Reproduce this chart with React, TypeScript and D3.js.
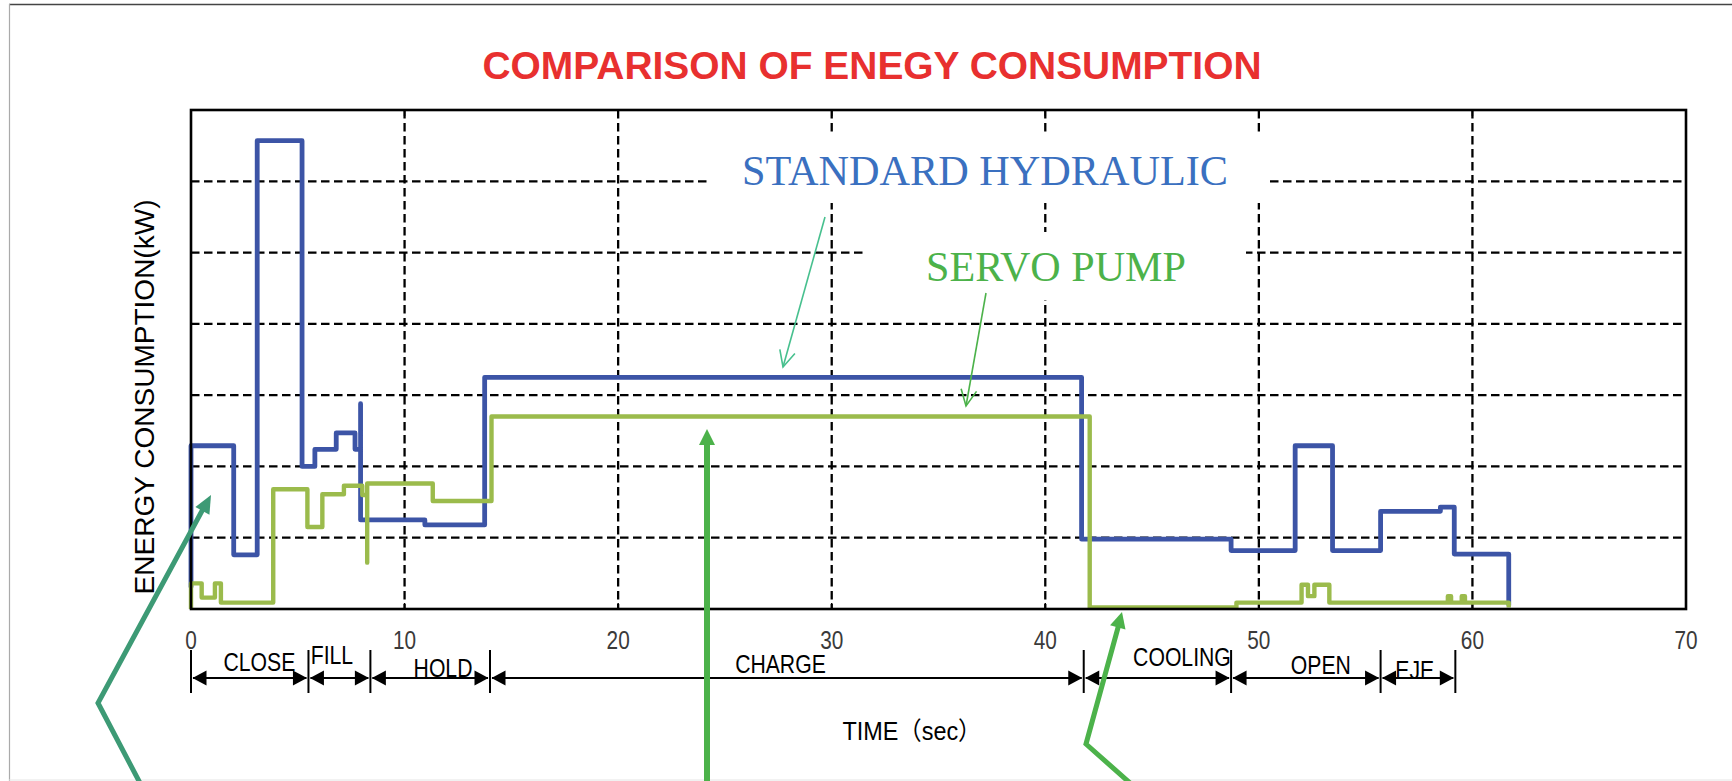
import React from "react";
import * as d3 from "d3";

// ---------- data ----------
const xTicks = [0, 10, 20, 30, 40, 50, 60, 70];
const yGrid = [1, 2, 3, 4, 5, 6];

const hydraulicTime = [0, 0, 2.0, 3.1, 5.2, 5.8, 6.8, 7.68, 7.94, 7.94, 10.95, 13.75, 41.7, 48.7, 51.7, 53.45, 55.7, 58.5, 59.15, 61.7];
const hydraulicKw = [0.3, 2.29, 0.76, 6.57, 2.0, 2.24, 2.47, 2.24, 2.88, 1.25, 1.18, 3.25, 0.98, 0.82, 2.29, 0.82, 1.37, 1.43, 0.77, 0.05];

const servoTime = [0, 0, 0.5, 1.12, 1.4, 3.85, 5.45, 6.15, 7.16, 8.02, 8.25, 8.25, 11.32, 14.07, 42.08, 48.95, 52.0, 52.3, 52.6, 53.3, 58.85, 59.0, 59.5, 59.65, 61.7];
const servoKw = [0, 0.36, 0.16, 0.36, 0.09, 1.68, 1.15, 1.61, 1.73, 1.6, 0.65, 1.76, 1.515, 2.7, 0.02, 0.09, 0.34, 0.18, 0.34, 0.09, 0.18, 0.09, 0.18, 0.09, 0.02];

const phaseBounds = [0, 5.5, 8.4, 14, 41.8, 48.7, 55.7, 59.2];
const phaseNames = ["CLOSE", "FILL", "HOLD", "CHARGE", "COOLING", "OPEN", "EJE"];
const phaseLabelAt = [3.2, 6.6, 11.8, 27.6, 46.4, 52.9, 57.3];

// ---------- layout ----------
const W = 1732;
const H = 781;
const L = 191, R = 1686, T = 110, B = 609;
const phaseLabelBaseline = [671, 664, 677, 673, 666, 674, 679];

const BLUE = "#3c54a6";
const GREEN = "#9bbb4c";
const ARROW_GREEN = "#4cb24a";
const TEAL = "#3d9a75";

function solidHead(x0: number, y0: number, x1: number, y1: number, len: number, half: number, color: string) {
  const a = Math.atan2(y1 - y0, x1 - x0);
  const bx = x1 - len * Math.cos(a), by = y1 - len * Math.sin(a);
  const px = -Math.sin(a) * half, py = Math.cos(a) * half;
  return <path d={`M${x1},${y1}L${bx + px},${by + py}L${bx - px},${by - py}Z`} fill={color} />;
}

function openHead(x0: number, y0: number, x1: number, y1: number, len: number, ang: number, color: string, w: number) {
  const a = Math.atan2(y1 - y0, x1 - x0);
  const p1 = [x1 - len * Math.cos(a - ang), y1 - len * Math.sin(a - ang)];
  const p2 = [x1 - len * Math.cos(a + ang), y1 - len * Math.sin(a + ang)];
  return <path d={`M${p1[0]},${p1[1]}L${x1},${y1}L${p2[0]},${p2[1]}`} fill="none" stroke={color} strokeWidth={w} />;
}

export default function App() {
  const x = d3.scaleLinear().domain([0, 70]).range([L, R]);
  const y = d3.scaleLinear().domain([0, 7]).range([B, T]);

  const line = d3.line<[number, number]>()
    .x((d) => x(d[0]))
    .y((d) => y(d[1]))
    .curve(d3.curveStepAfter);

  const blueD = line(hydraulicTime.map((t, i) => [t, hydraulicKw[i]] as [number, number])) || "";
  const greenD = line(servoTime.map((t, i) => [t, servoKw[i]] as [number, number])) || "";

  const arrowY = 678;

  return (
    <svg width={W} height={H} style={{ position: "absolute", left: 0, top: 0, display: "block" }}
      xmlns="http://www.w3.org/2000/svg">
      <rect x={0} y={0} width={W} height={H} fill="#fff" />
      {/* outer frame */}
      <line x1={9} y1={4.5} x2={W} y2={4.5} stroke="#444" strokeWidth={1.5} />
      <line x1={9.5} y1={4} x2={9.5} y2={H} stroke="#aaa" strokeWidth={1.2} />
      <line x1={9} y1={780} x2={W} y2={780} stroke="#e4e4e4" strokeWidth={1} />

      {/* title */}
      <text x={872} y={79} textAnchor="middle" fill="#e8302f" fontFamily="Liberation Sans, Arial, sans-serif"
        fontWeight="bold" fontSize={39} textLength={779} lengthAdjust="spacingAndGlyphs">
        COMPARISON OF ENEGY CONSUMPTION
      </text>

      {/* grid */}
      <g stroke="#000" strokeWidth={2.3} strokeDasharray="8.5,4.5">
        {yGrid.map((v) => (
          <line key={"h" + v} x1={L} x2={R} y1={y(v)} y2={y(v)} />
        ))}
        {xTicks.slice(1, -1).map((t) => (
          <line key={"v" + t} x1={x(t)} x2={x(t)} y1={T} y2={B} />
        ))}
      </g>
      {/* white label boxes interrupting grid */}
      <rect x={707} y={135} width={560} height={68} fill="#fff" />
      <rect x={867} y={232} width={379} height={68} fill="#fff" />

      {/* ticks */}
      <g stroke="#000" strokeWidth={1.5}>
        {xTicks.map((t) => (
          <g key={"t" + t}>
            <line x1={x(t)} x2={x(t)} y1={T} y2={T + 6} />
            <line x1={x(t)} x2={x(t)} y1={B} y2={B - 6} />
          </g>
        ))}
      </g>

      {/* series */}
      <path d={blueD} fill="none" stroke={BLUE} strokeWidth={4.8} strokeLinejoin="round" />
      <path d={greenD} fill="none" stroke={GREEN} strokeWidth={4.4} strokeLinejoin="round" />

      {/* plot border */}
      <rect x={L} y={T} width={R - L} height={B - T} fill="none" stroke="#000" strokeWidth={2.6} />

      {/* x tick labels */}
      {xTicks.map((t) => (
        <text key={"l" + t} transform={`translate(${x(t)},${649}) scale(0.8,1)`} textAnchor="middle"
          fontFamily="Liberation Sans, Arial, sans-serif" fontSize={26} fill="#3a3a3a">
          {t}
        </text>
      ))}

      {/* phase annotations */}
      <g stroke="#000" strokeWidth={2}>
        {phaseBounds.map((t, i) => (
          <line key={"pb" + i} x1={x(t)} x2={x(t)} y1={650} y2={693} />
        ))}
        {phaseNames.map((n, i) => (
          <line key={"pl" + i} x1={x(phaseBounds[i]) + 2} x2={x(phaseBounds[i + 1]) - 2} y1={arrowY} y2={arrowY} />
        ))}
      </g>
      {phaseNames.map((n, i) => {
        const a = x(phaseBounds[i]) + 1.5, b = x(phaseBounds[i + 1]) - 1.5;
        return (
          <g key={"ph" + i}>
            {solidHead(b, arrowY, a, arrowY, 14, 7.5, "#000")}
            {solidHead(a, arrowY, b, arrowY, 14, 7.5, "#000")}
          </g>
        );
      })}
      {phaseNames.map((n, i) => (
        <text key={"pn" + i} transform={`translate(${x(phaseLabelAt[i])},${phaseLabelBaseline[i]}) scale(0.8,1)`}
          textAnchor="middle" fontFamily="Liberation Sans, Arial, sans-serif" fontSize={26.5} fill="#000">
          {n}
        </text>
      ))}

      {/* axis titles */}
      <text x={912} y={740} textAnchor="middle" fontFamily="Liberation Sans, Arial, 'Noto Sans CJK JP', sans-serif"
        fontSize={25} fill="#000" textLength={139} lengthAdjust="spacingAndGlyphs">
        TIME（sec）
      </text>
      <text transform="translate(154,397) rotate(-90)" textAnchor="middle"
        fontFamily="Liberation Sans, Arial, sans-serif" fontSize={27} fill="#000"
        textLength={395} lengthAdjust="spacingAndGlyphs">
        ENERGY CONSUMPTION(kW)
      </text>

      {/* series labels */}
      <text x={742} y={185} fontFamily="Liberation Serif, 'Times New Roman', serif" fontSize={42} fill="#3a70c0"
        textLength={486} lengthAdjust="spacingAndGlyphs">
        STANDARD HYDRAULIC
      </text>
      <text x={926} y={281} fontFamily="Liberation Serif, 'Times New Roman', serif" fontSize={42} fill="#4cb24a"
        textLength={260} lengthAdjust="spacingAndGlyphs">
        SERVO PUMP
      </text>

      {/* thin pointer arrows */}
      <line x1={825} y1={217} x2={783} y2={367} stroke="#47c08e" strokeWidth={1.6} />
      {openHead(825, 217, 783, 367, 18, 0.45, "#47c08e", 1.6)}
      <line x1={986} y1={293} x2={966} y2={406} stroke="#4cb24a" strokeWidth={1.6} />
      {openHead(986, 293, 966, 406, 18, 0.45, "#4cb24a", 1.6)}

      {/* thick callout arrows */}
      <polyline points="140,783 98,703 203,509" fill="none" stroke={TEAL} strokeWidth={5} strokeLinejoin="miter" />
      {solidHead(98, 703, 211, 495, 18, 8, TEAL)}
      <line x1={707} y1={783} x2={707} y2={442} stroke={ARROW_GREEN} strokeWidth={6} />
      {solidHead(707, 783, 707, 429, 16, 8, ARROW_GREEN)}
      <polyline points="1130,783 1086,744 1119,624" fill="none" stroke={ARROW_GREEN} strokeWidth={5} strokeLinejoin="miter" />
      {solidHead(1086, 744, 1122, 612, 16, 8, ARROW_GREEN)}
    </svg>
  );
}
